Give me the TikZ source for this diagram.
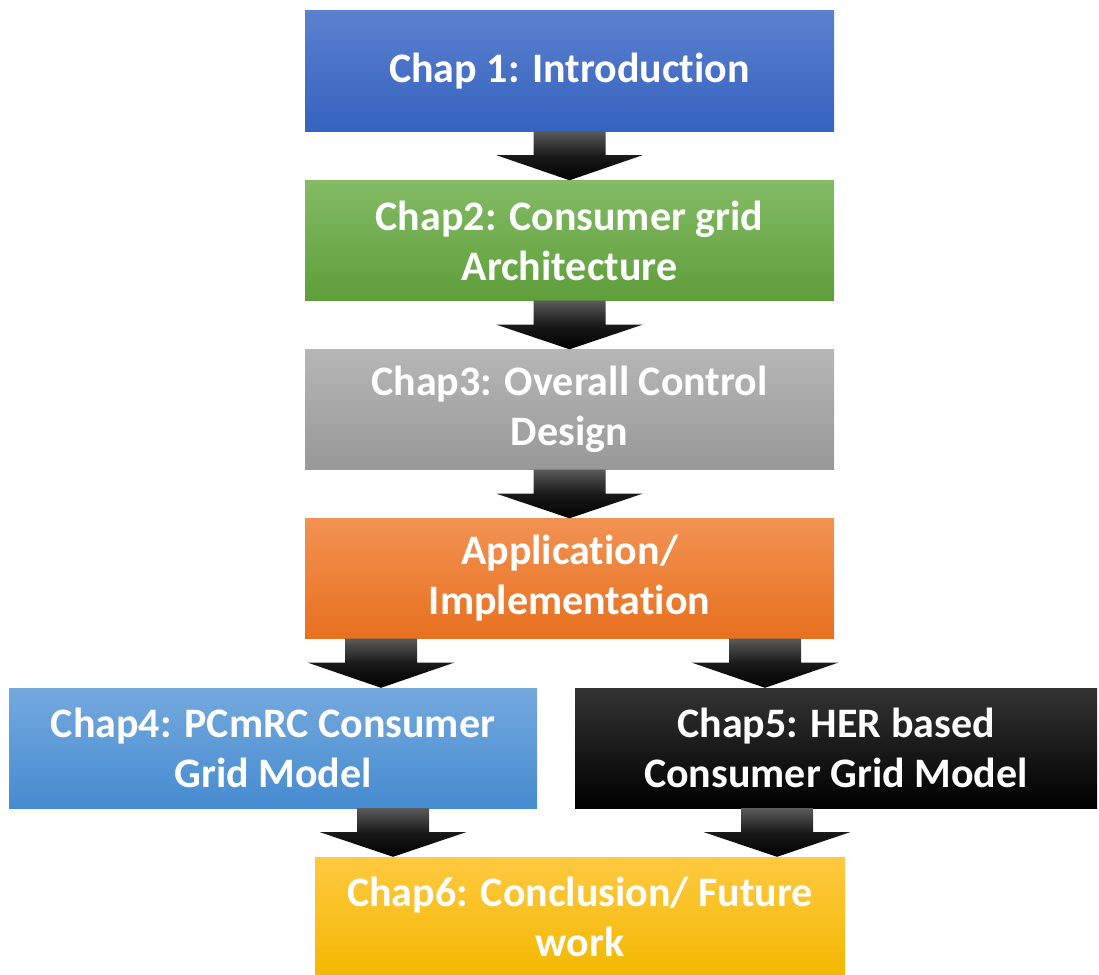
\documentclass[tikz,border=0pt]{standalone}
\usepackage{fontspec}
\setmainfont{Carlito}[Ligatures=NoCommon]
\usetikzlibrary{calc}

\definecolor{introTop}{HTML}{5B80CF}
\definecolor{introBot}{HTML}{3563BE}
\definecolor{archTop}{HTML}{84BB65}
\definecolor{archBot}{HTML}{5E9E3A}
\definecolor{ctrlTop}{HTML}{B6B6B6}
\definecolor{ctrlBot}{HTML}{989898}
\definecolor{appTop}{HTML}{F29252}
\definecolor{appBot}{HTML}{E8701F}
\definecolor{pcmTop}{HTML}{74A9DE}
\definecolor{pcmBot}{HTML}{468BD0}
\definecolor{herTop}{HTML}{333333}
\definecolor{herBot}{HTML}{000000}
\definecolor{conTop}{HTML}{FFC940}
\definecolor{conBot}{HTML}{F2B800}
\definecolor{arrTop}{HTML}{5A5A5A}

\tikzset{
  chapbox/.style={rectangle, inner sep=0pt, align=center, text=white,
    font=\fontsize{42}{50}\selectfont\bfseries,
    minimum height=120pt},
  arrowfill/.style={top color=arrTop, bottom color=black, middle color=black!90,
    draw=none},
}

% block arrow: #1 = top centre coordinate, #2 = tip coordinate
\newcommand\blockarrow[2]{%
  \shade[arrowfill]
    ($(#1)+(-36,0)$) -- ($(#1)+(36,0)$) -- ($(#1)+(36,24)$) --
    ($(#1)+(73,24)$) -- (#2) -- ($(#1)+(-73,24)$) -- ($(#1)+(-36,24)$) -- cycle;
}

\begin{document}
\begin{tikzpicture}[x={(1pt,0)}, y={(0,-1pt)}]
\useasboundingbox (0,0) rectangle (1099,974);

% chapter boxes
\node[chapbox, minimum width=529pt, top color=introTop, bottom color=introBot]
  (intro) at (569.5,71) {Chap 1: Introduction};
\node[chapbox, minimum width=529pt, top color=archTop, bottom color=archBot]
  (arch) at (569.5,240.5) {Chap2: Consumer grid\\Architecture};
\node[chapbox, minimum width=529pt, top color=ctrlTop, bottom color=ctrlBot]
  (ctrl) at (569.5,409.5) {Chap3: Overall Control\\Design};
\node[chapbox, minimum width=529pt, top color=appTop, bottom color=appBot]
  (app) at (569.5,578.5) {Application/\\Implementation};
\node[chapbox, minimum width=528pt, top color=pcmTop, bottom color=pcmBot]
  (pcm) at (273,748) {Chap4: PCmRC Consumer\\Grid Model};
\node[chapbox, minimum width=522pt, top color=herTop, bottom color=herBot]
  (her) at (836,748) {Chap5: HER based\\Consumer Grid Model};
\node[chapbox, minimum width=530pt, top color=conTop, bottom color=conBot]
  (con) at (580,917) {Chap6: Conclusion/ Future\\work};

% arrow anchor points
\coordinate (a1s) at (intro.south);
\coordinate (a1e) at (arch.north);
\coordinate (a2s) at (arch.south);
\coordinate (a2e) at (ctrl.north);
\coordinate (a3s) at (ctrl.south);
\coordinate (a3e) at (app.north);
\coordinate (a4s) at (app.south -| 381,0);
\coordinate (a4e) at (pcm.north -| 381,0);
\coordinate (a5s) at (app.south -| 765,0);
\coordinate (a5e) at (her.north -| 765,0);
\coordinate (a6s) at (pcm.south -| 393,0);
\coordinate (a6e) at (con.north -| 393,0);
\coordinate (a7s) at (her.south -| 777,0);
\coordinate (a7e) at (con.north -| 777,0);

\blockarrow{a1s}{a1e}
\blockarrow{a2s}{a2e}
\blockarrow{a3s}{a3e}
\blockarrow{a4s}{a4e}
\blockarrow{a5s}{a5e}
\blockarrow{a6s}{a6e}
\blockarrow{a7s}{a7e}
\end{tikzpicture}
\end{document}
